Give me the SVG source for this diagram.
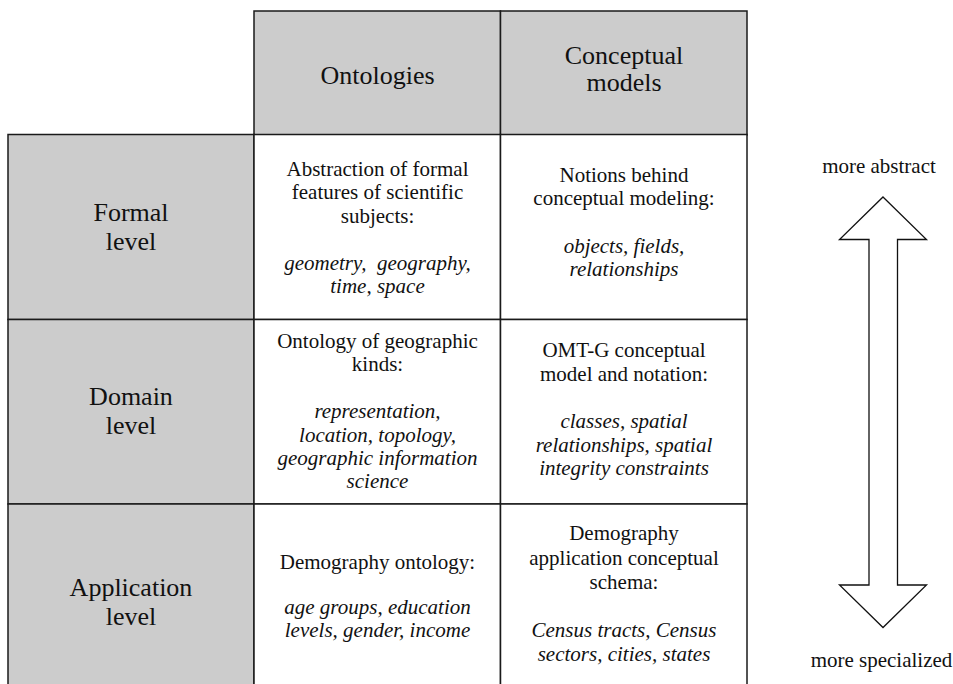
<svg xmlns="http://www.w3.org/2000/svg" width="953" height="684" viewBox="0 0 953 684">
  <style>
    .head { fill: #cccccc; stroke: #1a1a1a; stroke-width: 1.5; }
    .cell { fill: #ffffff; stroke: #1a1a1a; stroke-width: 1.5; }
    .big { font-family: "Liberation Serif", "Times New Roman", serif; font-size: 26px; fill: #111; text-anchor: middle; }
    .txt { font-family: "Liberation Serif", "Times New Roman", serif; font-size: 21px; fill: #111; text-anchor: middle; }
    .it { font-style: italic; }
    .arrow { fill: #ffffff; stroke: #111; stroke-width: 1.3; stroke-linejoin: miter; }
  </style>

  <!-- column headers -->
  <g id="hdr-ontologies">
    <rect class="head" x="254" y="11" width="246.5" height="124"/>
    <text class="big" x="377.5" y="83.5">Ontologies</text>
  </g>
  <g id="hdr-conceptual">
    <rect class="head" x="500.5" y="11" width="246.5" height="124"/>
    <text class="big" x="624" y="63.5">Conceptual</text>
    <text class="big" x="624" y="91">models</text>
  </g>

  <!-- row headers -->
  <g id="lvl-formal">
    <rect class="head" x="8" y="134.5" width="246" height="185"/>
    <text class="big" x="131" y="221">Formal</text>
    <text class="big" x="131" y="249.5">level</text>
  </g>
  <g id="lvl-domain">
    <rect class="head" x="8" y="319.5" width="246" height="184.5"/>
    <text class="big" x="131" y="405">Domain</text>
    <text class="big" x="131" y="433.5">level</text>
  </g>
  <g id="lvl-application">
    <rect class="head" x="8" y="504" width="246" height="200"/>
    <text class="big" x="131" y="596">Application</text>
    <text class="big" x="131" y="624.5">level</text>
  </g>

  <!-- formal level cells -->
  <g id="cell-formal-ontologies">
    <rect class="cell" x="254" y="134.5" width="246.5" height="185"/>
    <text class="txt" x="377.5" y="175.5">Abstraction of formal</text>
    <text class="txt" x="377.5" y="199">features of scientific</text>
    <text class="txt" x="377.5" y="222.5">subjects:</text>
    <text class="txt it" x="377.5" y="270" xml:space="preserve">geometry,  geography,</text>
    <text class="txt it" x="377.5" y="293">time, space</text>
  </g>
  <g id="cell-formal-models">
    <rect class="cell" x="500.5" y="134.5" width="246.5" height="185"/>
    <text class="txt" x="624" y="181.5">Notions behind</text>
    <text class="txt" x="624" y="205">conceptual modeling:</text>
    <text class="txt it" x="624" y="252.5">objects, fields,</text>
    <text class="txt it" x="624" y="276">relationships</text>
  </g>

  <!-- domain level cells -->
  <g id="cell-domain-ontologies">
    <rect class="cell" x="254" y="319.5" width="246.5" height="184.5"/>
    <text class="txt" x="377.5" y="347.5">Ontology of geographic</text>
    <text class="txt" x="377.5" y="371">kinds:</text>
    <text class="txt it" x="377.5" y="418">representation,</text>
    <text class="txt it" x="377.5" y="441.5">location, topology,</text>
    <text class="txt it" x="377.5" y="465">geographic information</text>
    <text class="txt it" x="377.5" y="488">science</text>
  </g>
  <g id="cell-domain-models">
    <rect class="cell" x="500.5" y="319.5" width="246.5" height="184.5"/>
    <text class="txt" x="624" y="357">OMT-G conceptual</text>
    <text class="txt" x="624" y="380.5">model and notation:</text>
    <text class="txt it" x="624" y="428">classes, spatial</text>
    <text class="txt it" x="624" y="451.5">relationships, spatial</text>
    <text class="txt it" x="624" y="475">integrity constraints</text>
  </g>

  <!-- application level cells (table runs past the lower edge) -->
  <g id="cell-application-ontologies">
    <rect class="cell" x="254" y="504" width="246.5" height="200"/>
    <text class="txt" x="377.5" y="569">Demography ontology:</text>
    <text class="txt it" x="377.5" y="613.5">age groups, education</text>
    <text class="txt it" x="377.5" y="637">levels, gender, income</text>
  </g>
  <g id="cell-application-models">
    <rect class="cell" x="500.5" y="504" width="246.5" height="200"/>
    <text class="txt" x="624" y="540">Demography</text>
    <text class="txt" x="624" y="564.5">application conceptual</text>
    <text class="txt" x="624" y="588.5">schema:</text>
    <text class="txt it" x="624" y="637">Census tracts, Census</text>
    <text class="txt it" x="624" y="661">sectors, cities, states</text>
  </g>

  <!-- abstraction scale -->
  <g id="connectors">
    <polygon class="arrow" points="883,197 926.5,239.5 897.5,239.5 897.5,585 926.5,585 883,627.5 839.5,585 869,585 869,239.5 839.5,239.5"/>
  </g>
  <g id="label-abstract">
    <text class="txt" x="879" y="173">more abstract</text>
  </g>
  <g id="label-specialized">
    <text class="txt" x="881.5" y="667">more specialized</text>
  </g>
</svg>
